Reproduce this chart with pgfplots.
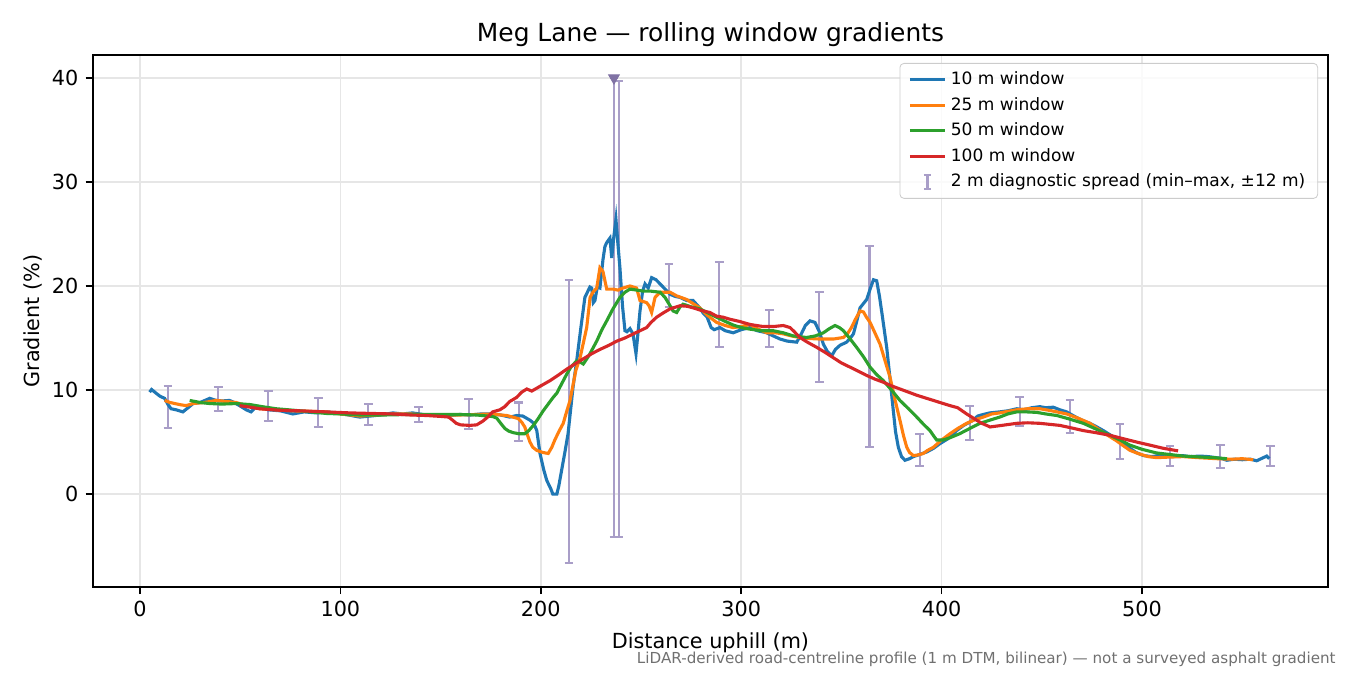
\documentclass[border=0pt]{standalone}
\usepackage{fontspec}
\setmainfont{DejaVu Sans}
\usepackage{pgfplots}
\pgfplotsset{compat=1.18}
\usepackage{pgfplotstable}
\usetikzlibrary{calc}

\definecolor{cten}{HTML}{1F77B4}
\definecolor{ctwentyfive}{HTML}{FF7F0E}
\definecolor{cfifty}{HTML}{2CA02C}
\definecolor{chundred}{HTML}{D62728}
\definecolor{spread}{RGB}{169,158,200}
\definecolor{spreadmk}{RGB}{128,114,164}
\definecolor{gridgray}{HTML}{E6E6E6}
\definecolor{legframe}{HTML}{CCCCCC}
\definecolor{notegray}{HTML}{707070}

% 2 m diagnostic spread: min and max within +-12 m
\pgfplotstableread{
x     lo     hi
14    6.35   10.4
39    8.0    10.3
64    7.0    9.95
89    6.45   9.2
114   6.65   8.65
139   6.9    8.35
164   6.25   9.1
189   5.1    8.8
214   -6.6   20.6
236.5 -4.1   40.0
239   -4.1   39.7
264   18.0   22.1
289   14.1   22.3
314   14.1   17.7
339   10.75  19.4
364   4.5    23.8
389   2.7    5.75
414   5.2    8.5
439   6.55   9.3
464   5.9    9.0
489   3.35   6.75
514   2.7    4.6
539   2.5    4.7
564   2.7    4.6
}\spreadtable

\begin{document}
\begin{tikzpicture}
\begin{axis}[
  scale only axis,
  width=595.0pt, height=256.3pt,
  xmin=-23.45, xmax=592.8,
  ymin=-8.93, ymax=42.2,
  xtick={0,100,200,300,400,500},
  ytick={0,10,20,30,40},
  tick pos=left,
  tick align=outside,
  major tick length=3.5pt,
  major tick style={black, line width=0.8pt},
  axis line style={line width=0.8pt},
  grid=major,
  major grid style={gridgray, line width=0.8pt},
  tick label style={font=\fontsize{10}{12}\selectfont},
  /pgf/number format/assume math mode=true,
  title={Meg Lane — rolling window gradients},
  title style={font=\fontsize{12}{14}\selectfont, at={(axis description cs:0.5,1)}, anchor=base, yshift=0.3pt},
  xlabel={Distance uphill (m)},
  xlabel style={font=\fontsize{10}{12}\selectfont, at={(axis description cs:0.5,0)}, anchor=base, yshift=-29.5pt},
  ylabel={Gradient (\%)},
  ylabel style={font=\fontsize{10}{12}\selectfont, yshift=-2.4pt},
  legend cell align=left,
  legend style={at={(axis description cs:0.992,0.985)}, anchor=north east,
    font=\fontsize{8.2}{9.8}\selectfont, draw=legframe, rounded corners=2pt,
    fill=white, fill opacity=0.8, text opacity=1, row sep=0.6pt,
    inner xsep=4pt, inner ysep=2pt},
]

\addplot[draw=none, mark=none, forget plot,
  error bars/.cd, y dir=both, y explicit,
  error bar style={draw=spread, line width=1pt},
  error mark options={draw=spread, rotate=90, mark size=2.1pt, line width=1pt}]
  table[x=x, y=lo, y error plus expr=\thisrow{hi}-\thisrow{lo}, y error minus expr=0] {\spreadtable};

\addplot[cten, line width=1.5pt] coordinates {
(4.8,9.8) (5.8,10.05) (8,9.7) (10,9.4) (12.3,9.2) (14,8.6) (15.5,8.2) (18,8.1)
(21.4,7.9) (24,8.3) (26.5,8.7) (30,8.8) (34.8,9.2) (38,9.0) (41,8.95) (44.7,9.0)
(47,8.8) (49.7,8.5) (53,8.1) (55.4,7.9) (57.5,8.3) (59.7,8.4) (64,8.1) (70,8.0)
(76.3,7.7) (82,7.9) (88,7.8) (92.8,7.9) (98,7.8) (104,7.6) (109.6,7.4) (115,7.5)
(120,7.6) (126.2,7.8) (131,7.7) (136,7.8) (142.8,7.6) (148,7.6) (153,7.5) (159.5,7.65)
(165,7.6) (170,7.7) (176,7.7) (180,7.6) (184.5,7.4) (188,7.55) (191,7.5) (194.6,7.1)
(196.5,6.8) (198,6.1) (199.6,3.9) (201.5,2.3) (203,1.3) (205,0.5) (206,0.0) (208,0.0)
(209,0.8) (210.4,2.3) (212,4.0) (213.6,5.8) (216.1,10.3) (217.9,12.8) (220,16.0) (222,18.9)
(223.5,19.5) (224.5,19.9) (225.4,19.8) (226.2,18.4) (227,18.6) (228.2,19.9) (229.5,19.8) (231,22.5)
(232,23.8) (233,24.2) (234.5,24.6) (235.4,22.7) (236.3,24.5) (237.5,26.4) (238.5,24.0) (239.5,21.7)
(240.8,18.0) (242,15.7) (243,15.6) (244.5,15.9) (246,15.4) (247.5,13.5) (248.5,15.5) (249.5,17.6)
(250.8,19.5) (252,20.2) (253.6,19.8) (255.3,20.8) (257.5,20.6) (259.5,20.2) (262,19.7) (264.5,19.2)
(267,19.0) (269.5,18.9) (272.8,18.6) (276,18.6) (279.3,17.9) (281,17.4) (283,17.0) (285,16.0)
(286.5,15.8) (289.4,16.0) (292,15.7) (296,15.5) (300,15.8) (304.4,16.0) (308,15.7) (312.7,15.5)
(316,15.2) (319.4,14.9) (323,14.7) (327.7,14.6) (330,15.4) (332,16.2) (334.3,16.65) (336.8,16.5)
(339,15.6) (341,14.4) (343,13.7) (345.2,13.3) (347,13.9) (349.3,14.3) (352.6,14.6) (354.5,15.0)
(356,15.4) (357.5,16.5) (359.3,17.9) (362.6,18.7) (364.5,19.8) (366,20.6) (367.6,20.5) (369,19.0)
(370.5,17.0) (372.6,14.1) (374.3,11.0) (375.9,8.0) (377,6.0) (378.4,4.5) (380,3.6) (381.7,3.25)
(384,3.4) (385.9,3.6) (389,3.8) (392.6,4.05) (396,4.4) (399.2,4.85) (403,5.3) (407.5,6.1)
(411,6.6) (415.8,7.1) (418,7.5) (420.8,7.65) (424,7.8) (429,7.9) (433,8.0) (437.5,8.2)
(441,8.1) (445,8.3) (449,8.4) (452,8.3) (455.7,8.35) (459,8.1) (462.4,7.9) (466,7.5)
(470,7.1) (474,6.8) (477,6.5) (480.7,6.1) (484,5.7) (487.4,5.3) (490,4.9) (494,4.4)
(497,4.0) (500.7,3.7) (505,3.6) (508,3.7) (512.3,3.6) (516,3.6) (520,3.7) (524,3.6)
(529,3.65) (533,3.6) (537,3.5) (540,3.4) (542.3,3.25) (546,3.35) (550,3.3) (554,3.35)
(557.2,3.2) (560,3.45) (562.2,3.65) (563.5,3.4)
};
\addlegendentry{10 m window}

\addplot[ctwentyfive, line width=1.5pt] coordinates {
(12.3,9.0) (15,8.8) (19.8,8.6) (23,8.5) (26.5,8.7) (32,8.8) (38,9.0) (43,8.9)
(48,8.8) (53,8.5) (59.7,8.2) (68,8.1) (76,8.0) (85,7.95) (92.8,7.9) (100,7.7)
(110,7.5) (118,7.6) (126,7.7) (135,7.7) (143,7.6) (150,7.6) (159.5,7.6) (168,7.65)
(176,7.7) (180,7.6) (183,7.55) (186,7.4) (188.8,7.25) (190.5,6.9) (192,6.45) (193.3,5.7)
(194.6,5.0) (196,4.5) (198,4.2) (201,4.0) (203.7,3.9) (205.5,4.5) (207,5.2) (209,6.0)
(211.2,6.8) (213,8.0) (214.6,9.0) (216,10.4) (217.5,11.9) (219.6,13.1) (221.2,14.5) (222.9,16.0)
(224.6,18.9) (226,19.4) (227.9,19.8) (229.5,21.75) (231,21.4) (232,20.5) (232.9,19.7) (236,19.7)
(238.5,19.6) (241,19.8) (244.5,20.0) (247.8,19.8) (249.5,18.6) (252.8,18.4) (254,18.1) (255.3,17.45)
(257,18.9) (259.5,19.4) (264.5,19.4) (267.8,19.05) (272.8,18.7) (276,18.3) (279.3,17.9) (283,17.2)
(287.7,16.5) (292,16.2) (296,16.0) (300,16.1) (304.4,16.3) (308,15.9) (312.7,15.5) (317,15.5)
(321,15.4) (325,15.2) (329.3,15.05) (334,14.95) (339.3,14.9) (346,14.9) (351,15.05) (353,15.4)
(355,16.0) (357,16.8) (359.3,17.6) (361,17.5) (362.5,17.0) (364.3,16.5) (366.7,15.5) (369.3,14.4)
(371.8,12.8) (374.3,11.2) (376.7,9.1) (379.2,7.1) (381,5.6) (382.6,4.5) (384,4.0) (385.9,3.7)
(388,3.75) (390.8,3.9) (393,4.2) (395.9,4.5) (400,5.2) (404.2,5.8) (408,6.3) (412.5,6.8)
(416,7.1) (420.8,7.4) (425,7.7) (429,7.8) (433,7.95) (437.5,8.1) (443,8.2) (449,8.2)
(455,8.0) (462.4,7.7) (468,7.3) (474,6.8) (480,6.0) (487.4,5.1) (491,4.6) (494,4.2)
(498,3.9) (503,3.6) (507.3,3.5) (513,3.55) (520.6,3.6) (528,3.5) (537.3,3.4) (545,3.35)
(550,3.4) (555.5,3.3)
};
\addlegendentry{25 m window}

\addplot[cfifty, line width=1.5pt] coordinates {
(24.8,9.0) (30,8.8) (34.8,8.7) (41,8.65) (48,8.7) (55,8.6) (61,8.4) (68,8.2)
(80,8.0) (92.8,7.75) (100,7.7) (109.6,7.6) (122,7.6) (134.5,7.65) (147,7.65) (159.5,7.65)
(168,7.6) (176,7.45) (178,7.3) (180,6.8) (182.1,6.3) (184,6.05) (186.3,5.9) (189,5.8)
(192,5.8) (194,6.1) (196.3,6.6) (198.5,7.2) (201.2,8.0) (203.5,8.6) (206.2,9.3) (208,9.7)
(209.6,10.3) (211.5,11.0) (213,11.55) (215,12.2) (217.9,12.8) (219.5,12.7) (221.2,12.5) (224,13.3)
(227.9,14.7) (230.5,15.8) (232.9,16.65) (236,17.8) (239.5,18.9) (242,19.4) (244.5,19.7) (248,19.6)
(251.2,19.5) (255,19.5) (259.5,19.4) (262,18.9) (264.5,18.1) (266,17.6) (267.8,17.45) (269.5,18.0)
(271,18.25) (275,18.0) (279.3,17.8) (283.5,17.4) (287.7,17.0) (292,16.6) (296,16.25) (300,16.0)
(304.4,15.85) (310,15.7) (316,15.7) (321,15.5) (326,15.2) (332.6,15.05) (337,15.2) (341,15.5)
(344,15.9) (346.8,16.2) (349,16.0) (351,15.7) (354,15.0) (357.6,14.1) (361,13.2) (364.3,12.2)
(367.5,11.5) (370.9,10.9) (375,10.0) (379.2,9.0) (383.5,8.2) (387.6,7.4) (391,6.7) (394.2,6.1)
(396,5.6) (397.5,5.2) (400.8,5.2) (404,5.4) (409,5.8) (414,6.3) (419.2,6.8) (424,7.1)
(429,7.4) (433,7.7) (437.5,7.9) (442,7.9) (447.5,7.85) (452,7.7) (457.5,7.55) (464,7.2)
(470.7,6.8) (477,6.25) (484,5.65) (489,5.2) (494,4.7) (500,4.3) (507.3,3.95) (514,3.8)
(520.6,3.65) (530,3.55) (536,3.5) (542.3,3.4)
};
\addlegendentry{50 m window}

\addplot[chundred, line width=1.5pt] coordinates {
(49.7,8.5) (55,8.35) (59.7,8.2) (70,8.05) (80,8.0) (92.8,7.9) (105,7.8) (115,7.75)
(126,7.7) (135,7.6) (143,7.55) (151,7.45) (154,7.4) (156,7.1) (157.8,6.8) (160,6.65)
(164.5,6.6) (168,6.65) (171,7.0) (173.5,7.4) (176,7.9) (179.6,8.1) (182,8.4) (184.5,8.9)
(186.3,9.1) (188,9.3) (190.5,9.8) (193,10.1) (195.5,9.9) (200,10.4) (204.6,10.9) (208.5,11.4)
(212.9,12.0) (217,12.5) (221.2,13.0) (225.5,13.5) (229.5,13.9) (234,14.3) (237.9,14.7) (242,15.0)
(246.2,15.4) (249.5,15.7) (252.8,16.0) (255,16.5) (257.8,17.0) (261,17.4) (264.5,17.8) (269.5,18.1)
(273,18.05) (276,17.9) (280,17.65) (284.4,17.45) (287.7,17.1) (291,17.0) (294.4,16.8) (299,16.6)
(304.4,16.3) (311,16.1) (316,16.1) (321,16.2) (324.4,16.0) (326.5,15.6) (329.3,15.05) (333,14.6)
(337.7,14.1) (342,13.6) (346,13.1) (350,12.6) (354.3,12.2) (358.5,11.8) (362.6,11.4) (366.7,11.05)
(370.9,10.75) (375,10.4) (379.2,10.1) (383.4,9.8) (387.6,9.5) (391.7,9.25) (395.9,9.0) (400,8.75)
(404.2,8.5) (408,8.3) (412.5,7.7) (415,7.4) (417.5,7.1) (420,6.8) (422.5,6.6) (424.2,6.45)
(430,6.6) (437.5,6.8) (443,6.85) (449,6.8) (454,6.7) (459,6.6) (465,6.35) (470.7,6.1)
(477,5.9) (484,5.65) (490,5.35) (497.3,5.0) (504,4.7) (510.6,4.4) (518,4.15)
};
\addlegendentry{100 m window}

% off-scale marker for the clipped bar
\addplot[only marks, mark=triangle*, mark size=3pt, forget plot,
  mark options={rotate=180, fill=spreadmk, draw=spreadmk}] coordinates {(236.5,40)};

\addlegendimage{legend image code/.code={
  \draw[spread, line width=1pt] (0.3cm,-0.12cm) -- (0.3cm,0.12cm)
    (0.24cm,-0.12cm) -- (0.36cm,-0.12cm) (0.24cm,0.12cm) -- (0.36cm,0.12cm);}}
\addlegendentry{2 m diagnostic spread (min–max, ±12 m)}
\end{axis}
\node[anchor=base east, inner sep=0pt, font=\fontsize{7.3}{9}\selectfont, text=notegray]
  at ($(current axis.south east)+(3.85pt,-37.1pt)$)
  {LiDAR-derived road-centreline profile (1 m DTM, bilinear) — not a surveyed asphalt gradient};
\pgfresetboundingbox
\path ($(current axis.south west)+(-44.8pt,-42.4pt)$) rectangle ($(current axis.north east)+(10.6pt,26.5pt)$);
\end{tikzpicture}
\end{document}
